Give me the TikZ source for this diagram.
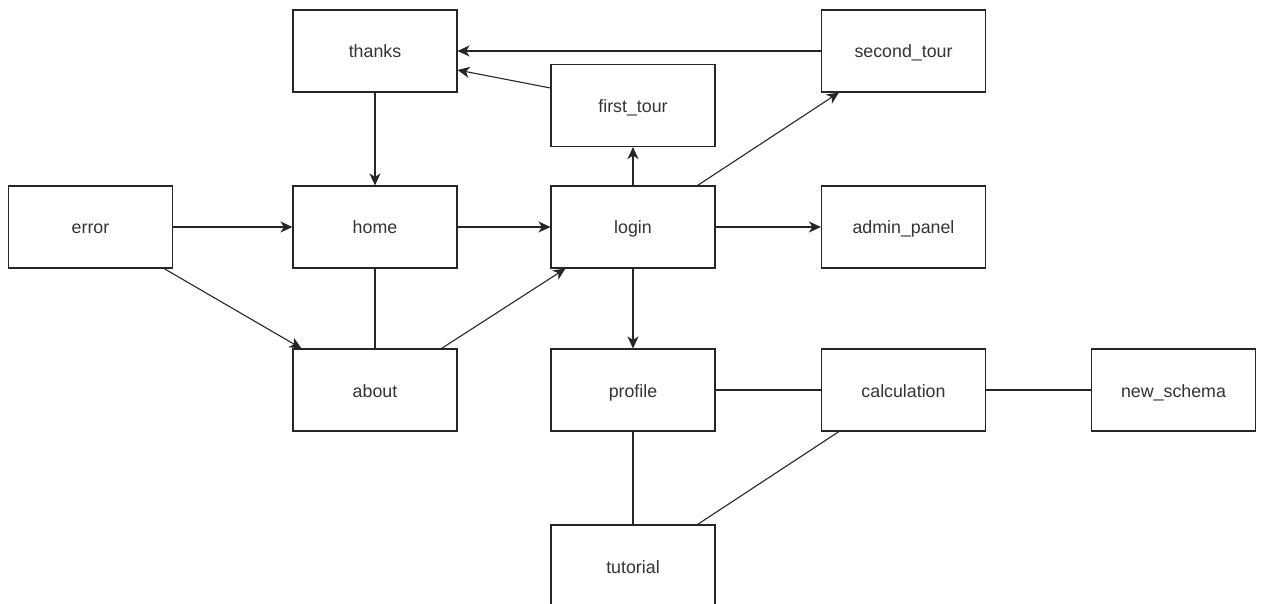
\documentclass[tikz,border=0pt]{standalone}
\usepackage{fontspec}
\setmainfont{Liberation Sans}
\usetikzlibrary{arrows.meta,calc}
\tikzset{
  page/.style={x=1pt,y=-1pt},
  box/.style={draw=black!85,line width=1.1pt,minimum width=164pt,minimum height=82pt,
    inner sep=0pt,font=\fontsize{17.8}{21}\selectfont,text=black!80,
    text height=18pt,text depth=4pt},
  link/.style={draw=black!85,line width=1.1pt},
  flow/.style={link,-{Stealth[length=12pt,width=11pt,inset=3.5pt]}}
}
\begin{document}
\begin{tikzpicture}[page]
\useasboundingbox (0,0) rectangle (1262,604);
\clip (0,0) rectangle (1262,604);
% boxes
\node[box] (thanks)     at (375,51)    {thanks};
\node[box] (second)     at (903.5,51)  {second\_tour};
\node[box] (first)      at (633,105.5) {first\_tour};
\node[box] (error)      at (90.5,227)  {error};
\node[box] (home)       at (375,227)   {home};
\node[box] (login)      at (633,227)   {login};
\node[box] (admin)      at (903.5,227) {admin\_panel};
\node[box] (about)      at (375,390)   {about};
\node[box] (profile)    at (633,390)   {profile};
\node[box] (calc)       at (903.5,390) {calculation};
\node[box] (schema)     at (1173.5,390){new\_schema};
\node[box] (tutorial)   at (633,566)   {tutorial};
% directed links
\draw[flow] (second.west) -- (thanks.east);
\draw[flow] ($(first.west)+(0,-17.5)$) -- ($(thanks.east)+(0,19)$);
\draw[flow] (thanks.south) -- (home.north);
\draw[flow] (error.east) -- (home.west);
\draw[flow] (home.east) -- (login.west);
\draw[flow] (login.east) -- (admin.west);
\draw[flow] (login.north) -- (first.south);
\draw[flow] ($(login.north east)+(-18,0)$) -- ($(second.south west)+(18,0)$);
\draw[flow] (login.south) -- (profile.north);
\draw[flow] ($(error.south east)+(-9,0)$) -- ($(about.north west)+(9,0)$);
\draw[flow] ($(about.north east)+(-16,0)$) -- ($(login.south west)+(15,0)$);
% plain links
\draw[link] (home.south) -- (about.north);
\draw[link] (profile.east) -- (calc.west);
\draw[link] (calc.east) -- (schema.west);
\draw[link] (profile.south) -- (tutorial.north);
\draw[link] ($(tutorial.north east)+(-18,0)$) -- ($(calc.south west)+(18,0)$);
\end{tikzpicture}
\end{document}
